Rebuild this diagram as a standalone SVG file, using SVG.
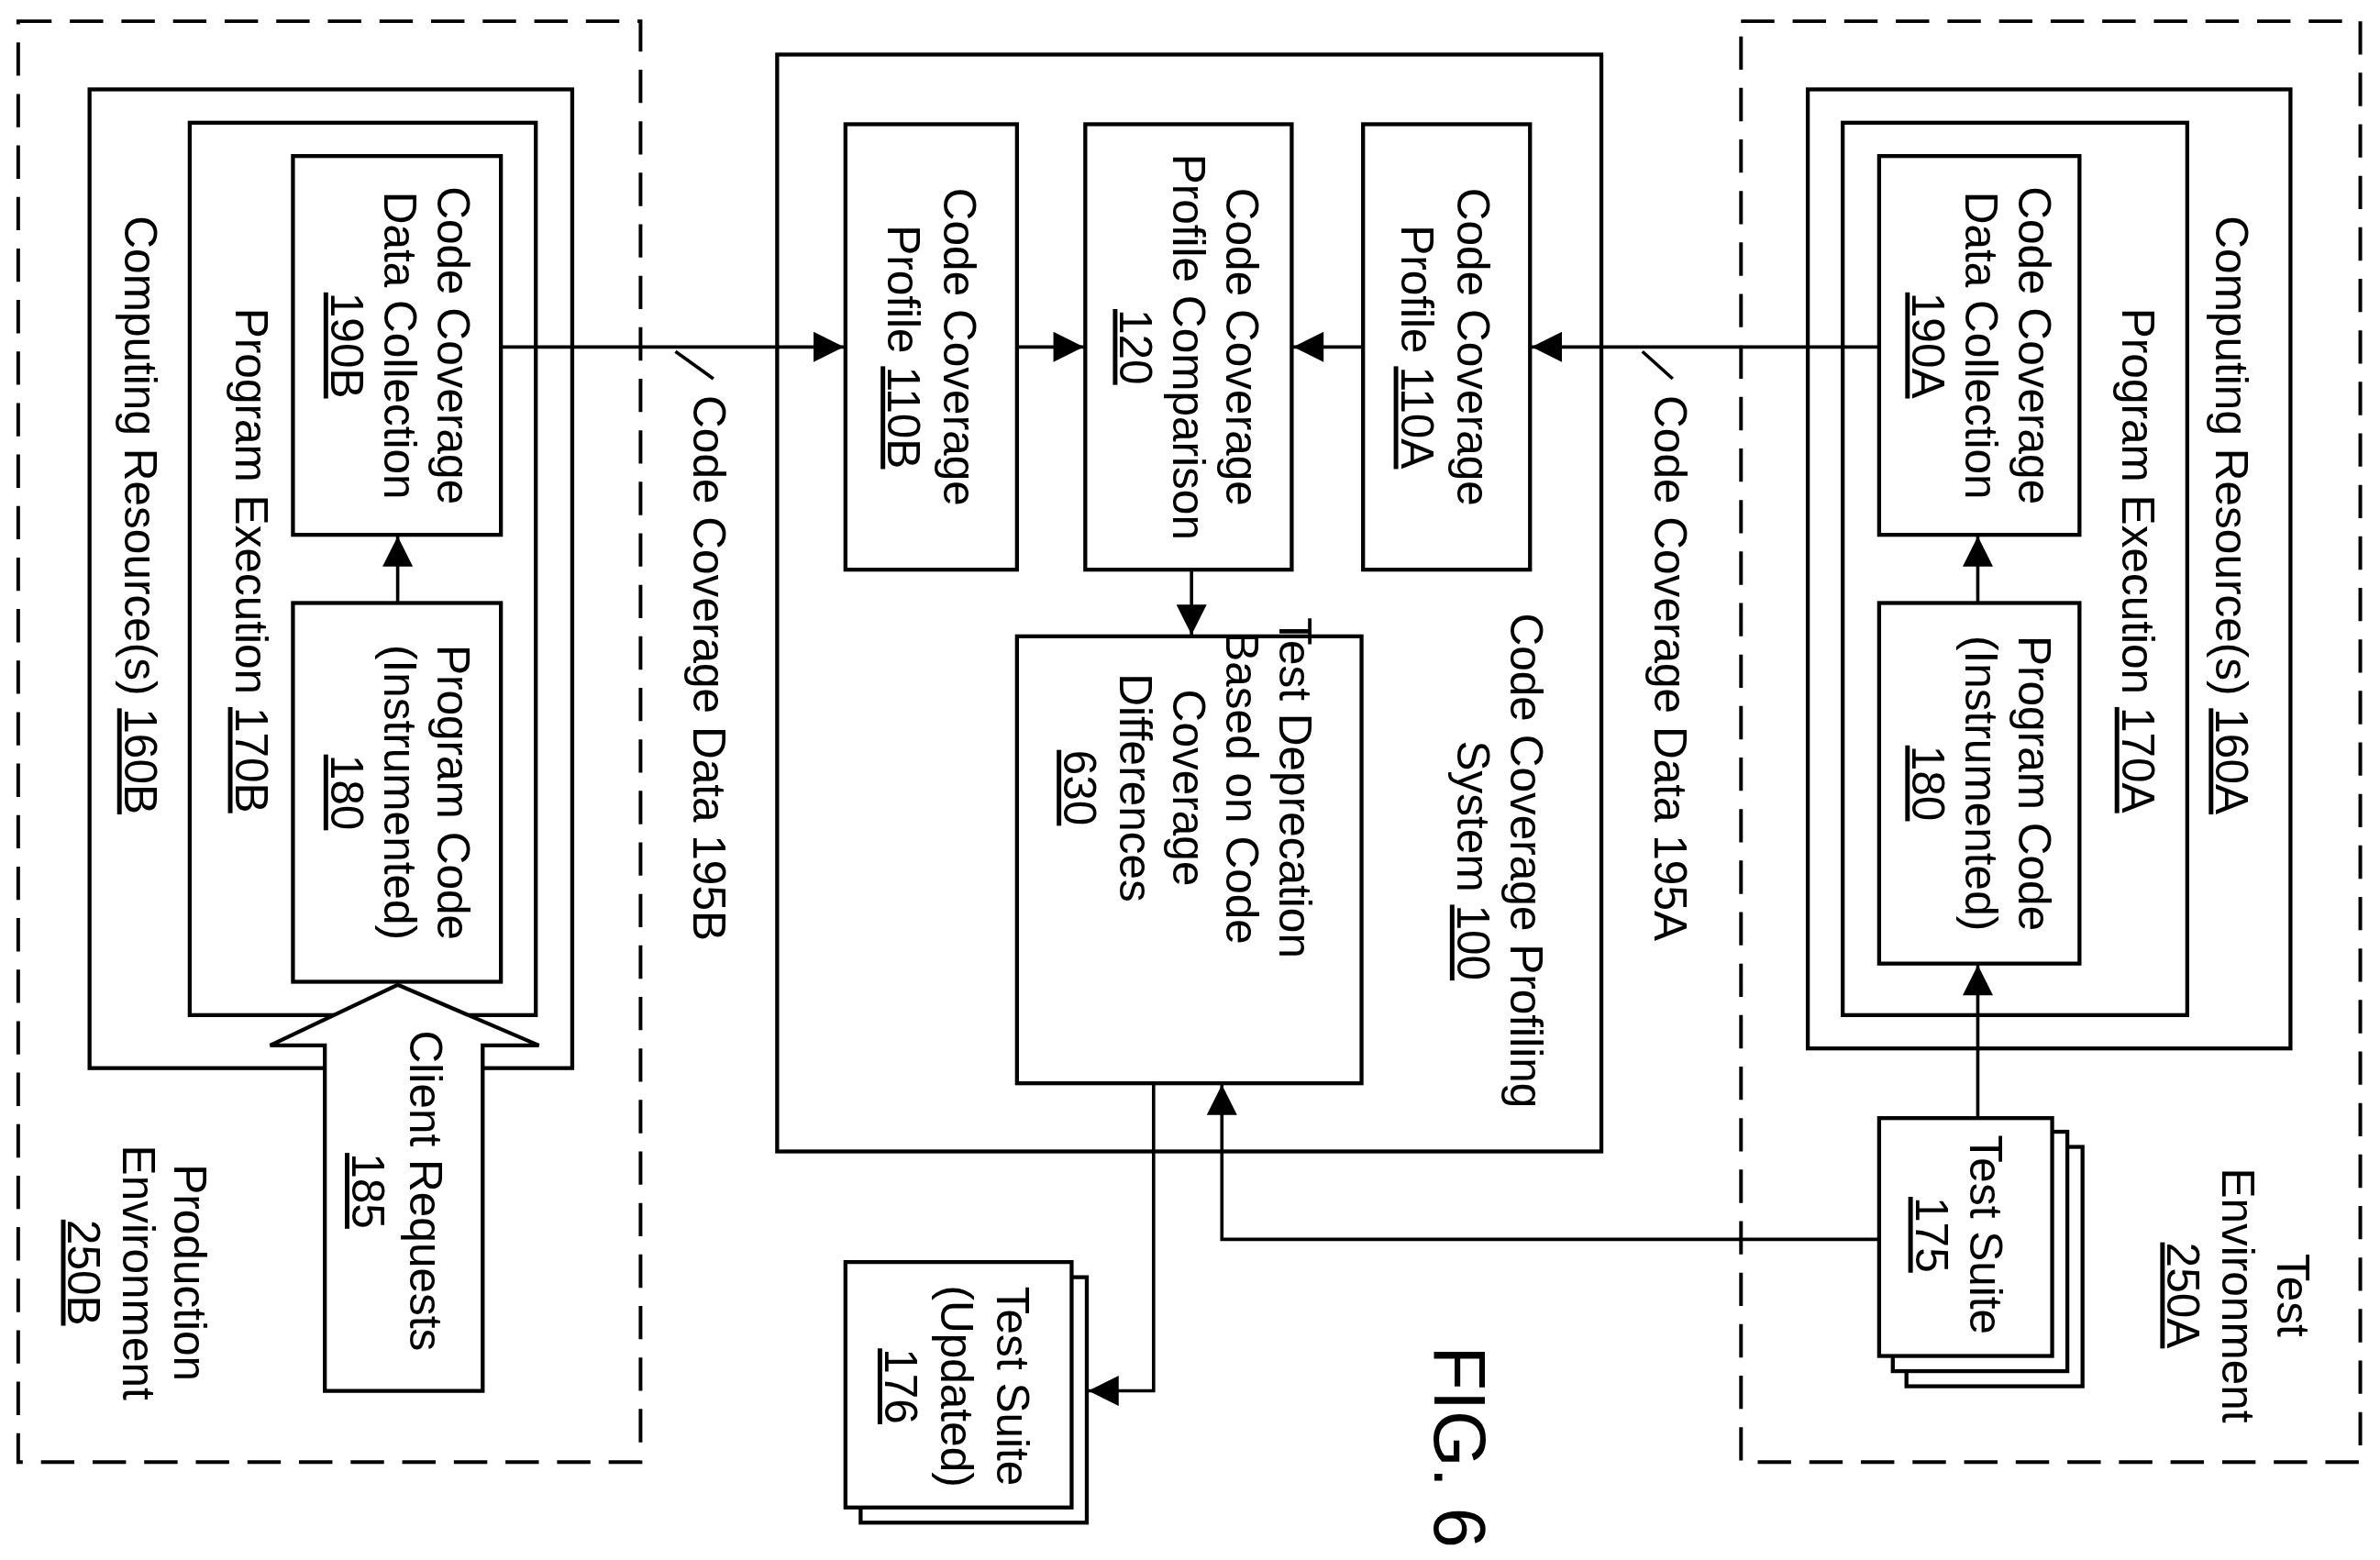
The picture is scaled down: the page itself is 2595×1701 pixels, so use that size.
<svg xmlns="http://www.w3.org/2000/svg" width="2595" height="1701" viewBox="0 0 2595 1701">
<defs>
<style>
.b{fill:#fff;stroke:#000;stroke-width:2.6}
.d{fill:none;stroke:#000;stroke-width:2.4;stroke-dasharray:22 12}
.l{fill:none;stroke:#000;stroke-width:2.2}
.t{font-family:"Liberation Sans",Arial,sans-serif;font-size:30px;fill:#000;text-anchor:middle}
.u{text-decoration:underline}
</style>
<marker id="a" viewBox="0 0 10 10" refX="10" refY="5" markerWidth="22" markerHeight="20" markerUnits="userSpaceOnUse" orient="auto"><path d="M0,0L10,5L0,10z"/></marker>
</defs>
<rect width="2595" height="1701" fill="#fff"/>
<g transform="scale(1.655 1.652)">
<g id="prod-env"><rect class="d" x="12" y="14" width="410" height="951"/>
<text class="t" transform="translate(115,840) rotate(90)"><tspan x="0">Production</tspan><tspan x="0" dy="34">Environment</tspan><tspan x="0" dy="36" class="u">250B</tspan></text></g>
<g id="cr160B"><rect class="b" x="59" y="59" width="318" height="646"/>
<text class="t" transform="translate(82,340) rotate(90)">Computing Resource(s) <tspan class="u">160B</tspan></text></g>
<g id="pe170B"><rect class="b" x="125" y="81" width="228" height="589"/>
<text class="t" transform="translate(155,370) rotate(90)">Program Execution <tspan class="u">170B</tspan></text></g>
<g id="c190B"><rect class="b" x="193" y="103" width="137" height="250"/>
<text class="t" transform="translate(288,228) rotate(90)"><tspan x="0">Code Coverage</tspan><tspan x="0" dy="35">Data Collection</tspan><tspan x="0" dy="35" class="u">190B</tspan></text></g>
<g id="p180B"><rect class="b" x="193" y="398" width="137" height="250"/>
<text class="t" transform="translate(288,523) rotate(90)"><tspan x="0">Program Code</tspan><tspan x="0" dy="35">(Instrumented)</tspan><tspan x="0" dy="35" class="u">180</tspan></text></g>
<g id="client185"><polygon class="b" points="262,650 355,690 318,690 318,918 214,918 214,690 178,690"/>
<text class="t" transform="translate(270,786) rotate(90)"><tspan x="0">Client Requests</tspan><tspan x="0" dy="38" class="u">185</tspan></text></g>

<g id="sys100"><rect class="b" x="512" y="36" width="543" height="724"/>
<text class="t" transform="translate(995,568) rotate(90)"><tspan x="0">Code Coverage Profiling</tspan><tspan x="0" dy="35">System <tspan class="u">100</tspan></tspan></text></g>
<g id="p110B"><rect class="b" x="557" y="82" width="113" height="294"/>
<text class="t" transform="translate(622,229) rotate(90)"><tspan x="0">Code Coverage</tspan><tspan x="0" dy="37">Profile <tspan class="u">110B</tspan></tspan></text></g>
<g id="c120"><rect class="b" x="715" y="82" width="136" height="294"/>
<text class="t" transform="translate(808,229) rotate(90)"><tspan x="0">Code Coverage</tspan><tspan x="0" dy="35">Profile Comparison</tspan><tspan x="0" dy="35" class="u">120</tspan></text></g>
<g id="p110A"><rect class="b" x="898" y="82" width="110" height="294"/>
<text class="t" transform="translate(960,229) rotate(90)"><tspan x="0">Code Coverage</tspan><tspan x="0" dy="37">Profile <tspan class="u">110A</tspan></tspan></text></g>
<g id="t630"><rect class="b" x="670" y="420" width="227" height="295"/>
<text class="t" transform="translate(843,520) rotate(90)"><tspan x="0">Test Deprecation</tspan><tspan x="0" dy="35">Based on Code</tspan><tspan x="0" dy="35">Coverage</tspan><tspan x="0" dy="35">Differences</tspan><tspan x="0" dy="37" class="u">630</tspan></text></g>
<g id="ts176"><rect class="b" x="567" y="843" width="149" height="162"/><rect class="b" x="557" y="833" width="149" height="162"/>
<text class="t" transform="translate(657,915) rotate(90)"><tspan x="0">Test Suite</tspan><tspan x="0" dy="37">(Updated)</tspan><tspan x="0" dy="37" class="u">176</tspan></text></g>
<text class="t" style="font-size:48px" transform="translate(945,955) rotate(90)">FIG. 6</text>

<g id="test-env"><rect class="d" x="1147" y="14" width="408" height="951"/>
<text class="t" transform="translate(1500,855) rotate(90)"><tspan x="0">Test</tspan><tspan x="0" dy="36">Environment</tspan><tspan x="0" dy="36" class="u">250A</tspan></text></g>
<g id="cr160A"><rect class="b" x="1191" y="59" width="318" height="633"/>
<text class="t" transform="translate(1460,340) rotate(90)">Computing Resource(s) <tspan class="u">160A</tspan></text></g>
<g id="pe170A"><rect class="b" x="1214" y="81" width="227" height="589"/>
<text class="t" transform="translate(1398,370) rotate(90)">Program Execution <tspan class="u">170A</tspan></text></g>
<g id="c190A"><rect class="b" x="1238" y="103" width="132" height="250"/>
<text class="t" transform="translate(1330,228) rotate(90)"><tspan x="0">Code Coverage</tspan><tspan x="0" dy="35">Data Collection</tspan><tspan x="0" dy="35" class="u">190A</tspan></text></g>
<g id="p180A"><rect class="b" x="1238" y="398" width="132" height="238"/>
<text class="t" transform="translate(1330,517) rotate(90)"><tspan x="0">Program Code</tspan><tspan x="0" dy="35">(Instrumented)</tspan><tspan x="0" dy="35" class="u">180</tspan></text></g>
<g id="ts175"><rect class="b" x="1256" y="757" width="116" height="158"/><rect class="b" x="1247" y="747" width="115" height="158"/><rect class="b" x="1238" y="738" width="114" height="157"/>
<text class="t" transform="translate(1298,815) rotate(90)"><tspan x="0">Test Suite</tspan><tspan x="0" dy="36" class="u">175</tspan></text></g>

<g id="connectors">
<line class="l" x1="262" y1="398" x2="262" y2="354" marker-end="url(#a)"/>
<line class="l" x1="330" y1="229" x2="556" y2="229" marker-end="url(#a)"/>
<line class="l" x1="445" y1="232" x2="470" y2="250"/>
<text class="t" transform="translate(457,441) rotate(90)">Code Coverage Data 195B</text>
<line class="l" x1="670" y1="229" x2="714" y2="229" marker-end="url(#a)"/>
<line class="l" x1="898" y1="229" x2="852" y2="229" marker-end="url(#a)"/>
<line class="l" x1="1238" y1="229" x2="1009" y2="229" marker-end="url(#a)"/>
<line class="l" x1="1082" y1="232" x2="1102" y2="250"/>
<text class="t" transform="translate(1090,441) rotate(90)">Code Coverage Data 195A</text>
<line class="l" x1="785" y1="376" x2="785" y2="419" marker-end="url(#a)"/>
<polyline class="l" points="760,715 760,918 717,918" marker-end="url(#a)"/>
<polyline class="l" points="1238,818 805,818 805,716" marker-end="url(#a)"/>
<line class="l" x1="1303" y1="398" x2="1303" y2="354" marker-end="url(#a)"/>
<line class="l" x1="1303" y1="738" x2="1303" y2="637" marker-end="url(#a)"/>
</g>
</g>
</svg>
